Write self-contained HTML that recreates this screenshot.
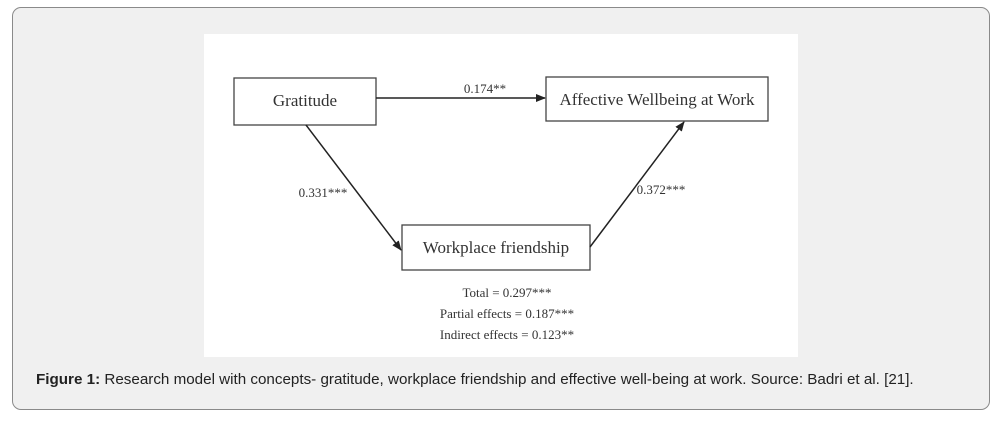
<!DOCTYPE html>
<html><head><style>
body{margin:0;width:1005px;height:425px;background:#fff;position:relative;overflow:hidden}
.panel{position:absolute;left:12px;top:7px;width:978px;height:403px;background:#f0f0f0;border:1px solid #8a8a8a;border-radius:9px;box-sizing:border-box}
.cap{position:absolute;left:36px;top:371px;font:15.2px "Liberation Sans",Arial,sans-serif;color:#222;white-space:nowrap}
svg{position:absolute;left:0;top:0}
</style></head><body>
<div class="panel"></div>
<svg width="1005" height="425">
<defs><marker id="a" markerWidth="10" markerHeight="8" refX="9" refY="4" orient="auto" markerUnits="userSpaceOnUse"><path d="M0,0 L10,4 L0,8 Z" fill="#222"/></marker></defs>
<rect x="204" y="34" width="594" height="323" fill="#fff"/>
<g fill="#fff" stroke="#444" stroke-width="1.3">
<rect x="234" y="78" width="142" height="47"/>
<rect x="546" y="77" width="222" height="44"/>
<rect x="402" y="225" width="188" height="45"/>
</g>
<g stroke="#222" stroke-width="1.5" fill="none">
<line x1="376" y1="98" x2="545" y2="98" marker-end="url(#a)"/>
<line x1="306" y1="125" x2="401" y2="250" marker-end="url(#a)"/>
<line x1="590" y1="247" x2="684" y2="122" marker-end="url(#a)"/>
</g>
<g font-family="Liberation Serif,serif" fill="#333">
<text x="305" y="106" font-size="17" text-anchor="middle">Gratitude</text>
<text x="657" y="105" font-size="17" text-anchor="middle">Affective Wellbeing at Work</text>
<text x="496" y="253" font-size="17" text-anchor="middle">Workplace friendship</text>
<text x="485" y="93" font-size="13" text-anchor="middle">0.174**</text>
<text x="323" y="197" font-size="13" text-anchor="middle">0.331***</text>
<text x="661" y="194" font-size="13" text-anchor="middle">0.372***</text>
<text x="507" y="297" font-size="13" text-anchor="middle">Total = 0.297***</text>
<text x="507" y="318" font-size="13" text-anchor="middle">Partial effects = 0.187***</text>
<text x="507" y="339" font-size="13" text-anchor="middle">Indirect effects = 0.123**</text>
</g>
</svg>
<div class="cap"><b>Figure 1:</b> Research model with concepts- gratitude, workplace friendship and effective well-being at work. Source: Badri et al. [21].</div>
</body></html>
